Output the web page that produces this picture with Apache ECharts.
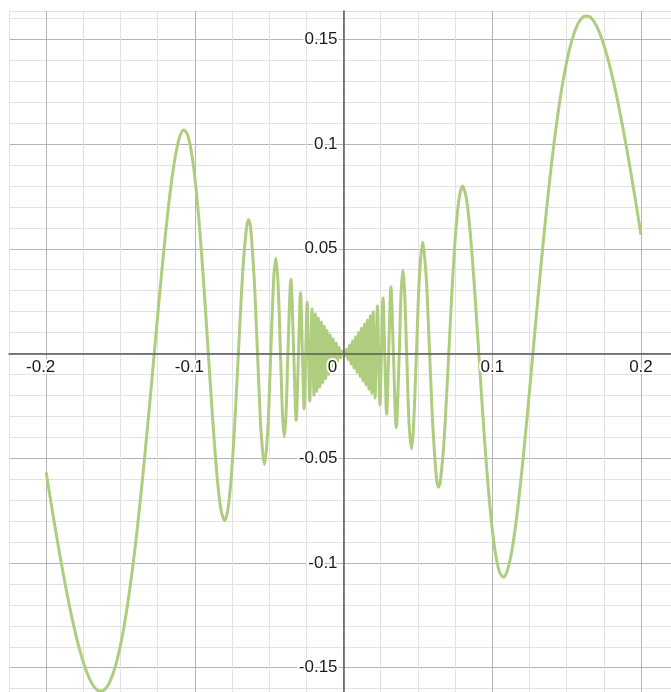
<!DOCTYPE html>
<html>
<head>
<meta charset="utf-8">
<script src="https://cdn.jsdelivr.net/npm/echarts@6/dist/echarts.min.js"></script>
<style>
html,body{margin:0;padding:0;background:#fff;}
#chart{width:671px;height:692px;}
</style>
</head>
<body>
<div id="chart"></div>
<script>
// Curve points, left half (x from -0.2 up to just below 0)
var leftCurve = [
  [-0.2, -0.0567], [-0.1975, -0.0679], [-0.195, -0.0788], [-0.1925, -0.0893], [-0.19, -0.0994],
  [-0.1875, -0.1091], [-0.185, -0.1182], [-0.1825, -0.1267], [-0.18, -0.1344], [-0.1775, -0.1414],
  [-0.175, -0.1474], [-0.1725, -0.1525], [-0.17, -0.1565], [-0.1675, -0.1594], [-0.165, -0.1609],
  [-0.1625, -0.1611], [-0.16, -0.1599], [-0.1575, -0.1572], [-0.155, -0.1528], [-0.1525, -0.1468],
  [-0.15, -0.1391], [-0.1475, -0.1297], [-0.145, -0.1186], [-0.1425, -0.1058], [-0.14, -0.0914],
  [-0.1375, -0.0755], [-0.135, -0.0583], [-0.1325, -0.04], [-0.13, -0.0209], [-0.1275, -0.0014],
  [-0.125, 0.0182], [-0.1225, 0.0373], [-0.12, 0.0553], [-0.1175, 0.0717], [-0.115, 0.0858],
  [-0.1125, 0.0967], [-0.11, 0.1039], [-0.1075, 0.1067], [-0.105, 0.1045], [-0.1025, 0.0969],
  [-0.1, 0.0839], [-0.0975, 0.0657], [-0.095, 0.043], [-0.0925, 0.017], [-0.09, -0.0104],
  [-0.0875, -0.0367], [-0.085, -0.0591], [-0.0825, -0.0745], [-0.08, -0.0798], [-0.0775, -0.0731],
  [-0.075, -0.054], [-0.0725, -0.0245], [-0.07, 0.0104], [-0.0675, 0.0423], [-0.065, 0.0616],
  [-0.0639, 0.0638], [-0.0625, 0.0599], [-0.06, 0.0345], [-0.059, 0.0191], [-0.05787, 0],
  [-0.0566, -0.0215], [-0.0555, -0.0374], [-0.0532, -0.0531], [-0.051, -0.037], [-0.04897, 0],
  [-0.047, 0.0355], [-0.04557, 0.0455], [-0.044, 0.0326], [-0.04244, 0], [-0.041, -0.0302],
  [-0.03985, -0.0398], [-0.0386, -0.0276], [-0.03745, 0], [-0.03541, 0.0354], [-0.03351, 0],
  [-0.03186, -0.0319], [-0.03032, 0], [-0.02896, 0.029], [-0.02768, 0], [-0.02654, -0.0265],
  [-0.02546, 0], [-0.02449, 0.0245], [-0.02358, 0], [-0.02274, -0.0227], [-0.02195, 0],
  [-0.02122, 0.0212], [-0.02054, 0], [-0.0199, -0.0199],
  [-0.019, 0.019], [-0.018, -0.018], [-0.017, 0.017], [-0.016, -0.016], [-0.015, 0.015],
  [-0.014, -0.014], [-0.013, 0.013], [-0.012, -0.012], [-0.011, 0.011], [-0.01, -0.01],
  [-0.009, 0.009], [-0.008, -0.008], [-0.007, 0.007], [-0.006, -0.006], [-0.005, 0.005],
  [-0.004, -0.004], [-0.003, 0.003], [-0.002, -0.002], [-0.001, 0.001]
];
// Right half (x from 0 up to 0.2)
var rightCurve = [
  [0, 0], [0.001, -0.001], [0.002, 0.002], [0.003, -0.003], [0.004, 0.004], [0.005, -0.005],
  [0.006, 0.006], [0.007, -0.007], [0.008, 0.008], [0.009, -0.009], [0.01, 0.01],
  [0.011, -0.011], [0.012, 0.012], [0.013, -0.013], [0.014, 0.014], [0.015, -0.015],
  [0.016, 0.016], [0.017, -0.017], [0.018, 0.018], [0.019, -0.019], [0.0199, 0.0199],
  [0.02054, 0], [0.02122, -0.0212], [0.02195, 0], [0.02274, 0.0227], [0.02358, 0],
  [0.02449, -0.0245], [0.02546, 0], [0.02654, 0.0265], [0.02768, 0], [0.02896, -0.029],
  [0.03032, 0], [0.03186, 0.0319], [0.03351, 0], [0.03541, -0.0354], [0.03745, 0],
  [0.0386, 0.0276], [0.03985, 0.0398], [0.041, 0.0302], [0.04244, 0], [0.044, -0.0326],
  [0.04557, -0.0455], [0.047, -0.0355], [0.04897, 0], [0.051, 0.037], [0.0532, 0.0531],
  [0.0555, 0.0374], [0.0566, 0.0215], [0.05787, 0], [0.059, -0.0191], [0.06, -0.0345],
  [0.0625, -0.0599], [0.0639, -0.0638], [0.065, -0.0616], [0.0675, -0.0423], [0.07, -0.0104],
  [0.0725, 0.0245], [0.075, 0.054], [0.0775, 0.0731], [0.08, 0.0798], [0.0825, 0.0745],
  [0.085, 0.0591], [0.0875, 0.0367], [0.09, 0.0104], [0.0925, -0.017], [0.095, -0.043],
  [0.0975, -0.0657], [0.1, -0.0839], [0.1025, -0.0969], [0.105, -0.1045], [0.1075, -0.1067],
  [0.11, -0.1039], [0.1125, -0.0967], [0.115, -0.0858], [0.1175, -0.0717], [0.12, -0.0553],
  [0.1225, -0.0373], [0.125, -0.0182], [0.1275, 0.0014], [0.13, 0.0209], [0.1325, 0.04],
  [0.135, 0.0583], [0.1375, 0.0755], [0.14, 0.0914], [0.1425, 0.1058], [0.145, 0.1186],
  [0.1475, 0.1297], [0.15, 0.1391], [0.1525, 0.1468], [0.155, 0.1528], [0.1575, 0.1572],
  [0.16, 0.1599], [0.1625, 0.1611], [0.165, 0.1609], [0.1675, 0.1594], [0.17, 0.1565],
  [0.1725, 0.1525], [0.175, 0.1474], [0.1775, 0.1414], [0.18, 0.1344], [0.1825, 0.1267],
  [0.185, 0.1182], [0.1875, 0.1091], [0.19, 0.0994], [0.1925, 0.0893], [0.195, 0.0788],
  [0.1975, 0.0679], [0.2, 0.0567]
];
// Tick labels shown on the axes
var xTickLabels = [-0.2, -0.1, 0, 0.1, 0.2];
var yTickLabels = [-0.15, -0.1, -0.05, 0.05, 0.1, 0.15];

var curveData = leftCurve.concat(rightCurve);

function near(v, list) {
  for (var i = 0; i < list.length; i++) { if (Math.abs(v - list[i]) < 1e-9) return list[i]; }
  return null;
}
function fmt(v) { return String(+v.toFixed(3)); }

var MINOR = '#e2e2e2', MAJOR = '#b4b4b4';
var labelFont = { fontFamily: 'Liberation Sans, Arial, sans-serif', fontSize: 17, color: '#1a1a1a',
  textBorderColor: '#ffffff', textBorderWidth: 4 };

var X_MIN = -0.225, X_MAX = 0.2202, Y_MIN = -0.17, Y_MAX = 0.1635;
var GRID = { left: 9, right: 0, top: 11, bottom: -17.6, containLabel: false, outerBoundsMode: 'none' };

var chart = echarts.init(document.getElementById('chart'), null, { renderer: 'canvas' });

function buildOption(xOffset, yOffset) {
  return {
    backgroundColor: '#ffffff',
    animation: false,
    grid: GRID,
    xAxis: [
      { type: 'value', position: 'top', min: X_MIN, max: X_MAX, interval: 0.025,
        axisLine: { show: false, onZero: false }, axisTick: { show: false }, axisLabel: { show: false },
        splitLine: { show: true, lineStyle: { width: 1, color: [MINOR, MAJOR, MINOR, MINOR] } } },
      { type: 'value', position: 'bottom', offset: xOffset, min: X_MIN, max: X_MAX, interval: 0.025, z: 10,
        axisLine: { show: true, onZero: false, lineStyle: { color: '#5a5a5a', width: 1.5 } },
        axisTick: { show: false }, splitLine: { show: false },
        axisLabel: Object.assign({ show: true, margin: 5, showMinLabel: true, showMaxLabel: true, hideOverlap: false,
          formatter: function (v) {
            var t = near(v, xTickLabels);
            if (t === null) return '';
            if (t === 0) return '{z|0}';
            if (t < 0) return '{n|' + fmt(t) + '}';
            return fmt(t);
          },
          rich: {
            z: Object.assign({ padding: [0, 22, 0, 0] }, labelFont),
            n: Object.assign({ padding: [0, 11, 0, 0] }, labelFont)
          } }, labelFont) }
    ],
    yAxis: [
      { type: 'value', position: 'right', min: Y_MIN, max: Y_MAX, interval: 0.01,
        axisLine: { show: false, onZero: false }, axisTick: { show: false }, axisLabel: { show: false },
        splitLine: { show: true, lineStyle: { width: 1, color: [MINOR, MINOR, MAJOR, MINOR, MINOR] } } },
      { type: 'value', position: 'left', offset: yOffset, min: Y_MIN, max: Y_MAX, interval: 0.01, z: 10,
        axisLine: { show: true, onZero: false, lineStyle: { color: '#5a5a5a', width: 1.5 } },
        axisTick: { show: false }, splitLine: { show: false },
        axisLabel: Object.assign({ show: true, margin: 6, hideOverlap: false,
          formatter: function (v) {
            var t = near(v, yTickLabels);
            return t === null ? '' : fmt(t);
          } }, labelFont) }
    ],
    series: [{
      type: 'line',
      xAxisIndex: 0, yAxisIndex: 0,
      data: curveData,
      showSymbol: false,
      symbol: 'none',
      smooth: 0.3,
      clip: true,
      lineStyle: { color: '#afcd7e', width: 3 },
      z: 2
    }]
  };
}

// First pass: lay out the grid, then move the labelled axes onto the zero lines.
chart.setOption(buildOption(0, 0));
var origin = chart.convertToPixel({ xAxisIndex: 0, yAxisIndex: 0 }, [0, 0]);
var bottomPx = chart.convertToPixel({ yAxisIndex: 0 }, Y_MIN);
var leftPx = chart.convertToPixel({ xAxisIndex: 0 }, X_MIN);
chart.setOption(buildOption(origin[1] - bottomPx, leftPx - origin[0]), true);
</script>
</body>
</html>
